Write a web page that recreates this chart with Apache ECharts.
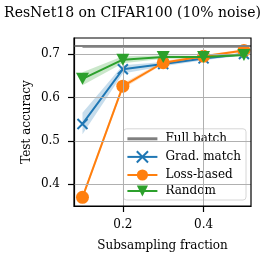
<!DOCTYPE html>
<html><head><meta charset="utf-8">
<script src="https://cdn.jsdelivr.net/npm/echarts@6/dist/echarts.min.js"></script>
<style>html,body{margin:0;padding:0;background:#fff}#c{width:265px;height:265px}</style>
</head><body><div id="c"></div>
<script>
const fractions = [0.1, 0.2, 0.3, 0.4, 0.5];
const fullBatch = 0.717;
const gradMatch = [0.539, 0.665, 0.677, 0.690, 0.700];
const gradLow   = [0.515, 0.655, 0.672, 0.686, 0.697];
const gradHigh  = [0.565, 0.674, 0.682, 0.694, 0.703];
const lossBased = [0.370, 0.626, 0.680, 0.695, 0.708];
const lossLow   = [0.365, 0.620, 0.677, 0.692, 0.705];
const lossHigh  = [0.375, 0.632, 0.684, 0.698, 0.711];
const randomSel = [0.643, 0.687, 0.693, 0.693, 0.698];
const randLow   = [0.628, 0.679, 0.689, 0.690, 0.695];
const randHigh  = [0.658, 0.695, 0.697, 0.696, 0.701];
const xTicks = [0.2, 0.4];
const yTicks = [0.4, 0.5, 0.6, 0.7];
const xRange = [0.079, 0.5175];
const yRange = [0.35, 0.737];

const FONT = 'DejaVu Serif';
const C = {blue:'#1f77b4', orange:'#ff7f0e', green:'#2ca02c', gray:'#7f7f7f'};
const pts = arr => fractions.map((x,i)=>[x, arr[i]]);

function band(name, lo, hi, color){
  return {
    type:'custom', name:name, silent:true, z:1,
    data: fractions.map((x,i)=>[x, lo[i], hi[i]]),
    renderItem:function(params, api){
      if (params.dataIndex !== 0) return null;
      const top = fractions.map((x,i)=>api.coord([x, hi[i]]));
      const bot = fractions.map((x,i)=>api.coord([x, lo[i]])).reverse();
      return {type:'polygon', shape:{points: top.concat(bot)}, style:{fill:color, opacity:0.25}};
    }
  };
}

const chart = echarts.init(document.getElementById('c'), null, {renderer:'canvas'});
chart.setOption({
  animation:false,
  title:{text:'ResNet18 on CIFAR100 (10% noise)', left:'center', top:1, textStyle:{fontFamily:FONT, fontSize:14, fontWeight:'normal', color:'#000'}},
  grid:{left:74, top:38, width:177, height:168, show:true, borderColor:'#000', borderWidth:1.2, backgroundColor:'transparent', z:6},
  xAxis:{type:'value', min:xRange[0], max:xRange[1],
    name:'Subsampling fraction', nameLocation:'middle', nameGap:34, nameMoveOverlap:false,
    nameTextStyle:{fontFamily:FONT, fontSize:12, color:'#000'},
    axisLine:{show:true, onZero:false, lineStyle:{color:'#000', width:1.2}},
    axisTick:{show:true, customValues:xTicks, length:6, lineStyle:{color:'#000', width:1.2}},
    axisLabel:{customValues:xTicks, fontFamily:FONT, fontSize:12, color:'#000', margin:13, formatter:v=>v.toFixed(1)},
    splitLine:{show:false}},
  yAxis:{type:'value', min:yRange[0], max:yRange[1],
    name:'Test accuracy', nameLocation:'middle', nameGap:41, nameMoveOverlap:false,
    nameTextStyle:{fontFamily:FONT, fontSize:12, color:'#000'},
    axisLine:{show:true, onZero:false, lineStyle:{color:'#000', width:1.2}},
    axisTick:{show:true, customValues:yTicks, length:6, lineStyle:{color:'#000', width:1.2}},
    axisLabel:{customValues:yTicks, fontFamily:FONT, fontSize:12, color:'#000', margin:14, formatter:v=>v.toFixed(1)},
    splitLine:{show:false}},
  legend:{
    data:[{name:'Full batch', icon:'path://M0,0L30,0L30,3L0,3Z'},'Grad. match','Loss-based','Random'],
    orient:'vertical', right:19, bottom:65, itemGap:4, itemWidth:30, itemHeight:14,
    backgroundColor:'rgba(255,255,255,0.85)', borderColor:'#d6d6d6', borderWidth:1, borderRadius:3,
    padding:[4,5,3,3],
    textStyle:{fontFamily:FONT, fontSize:12, color:'#000', padding:[0,0,0,3]}
  },
  series:[
    {type:'line', name:'grid', data:[], silent:true, z:0,
      markLine:{silent:true, symbol:'none', label:{show:false},
        lineStyle:{color:'#b0b0b0', width:1, type:'solid'},
        data: xTicks.map(v=>({xAxis:v})).concat(yTicks.map(v=>({yAxis:v})))}},
    {type:'line', name:'Full batch', data:fractions.map(x=>[x, fullBatch]), color:C.gray, symbol:'none', showSymbol:false,
      lineStyle:{width:2, color:C.gray}, itemStyle:{color:C.gray}, z:2,
      markLine:{silent:true, symbol:'none', label:{show:false}, lineStyle:{color:C.gray, width:2, type:'solid'}, data:[{yAxis:fullBatch}]}},
    band('gband', gradLow, gradHigh, C.blue),
    band('lband', lossLow, lossHigh, C.orange),
    band('rband', randLow, randHigh, C.green),
    {type:'line', name:'Grad. match', data:pts(gradMatch), color:C.blue, z:3,
      symbol:'path://M0,0L10,10M10,0L0,10', symbolSize:10,
      lineStyle:{width:2, color:C.blue}, itemStyle:{color:'none', borderColor:C.blue, borderWidth:2}},
    {type:'line', name:'Loss-based', data:pts(lossBased), color:C.orange, z:4,
      symbol:'circle', symbolSize:13,
      lineStyle:{width:2, color:C.orange}, itemStyle:{color:C.orange}},
    {type:'line', name:'Random', data:pts(randomSel), color:C.green, z:5,
      symbol:'path://M0,0L10,0L5,9Z', symbolSize:[13,12],
      lineStyle:{width:2, color:C.green}, itemStyle:{color:C.green}}
  ]
});
</script></body></html>
